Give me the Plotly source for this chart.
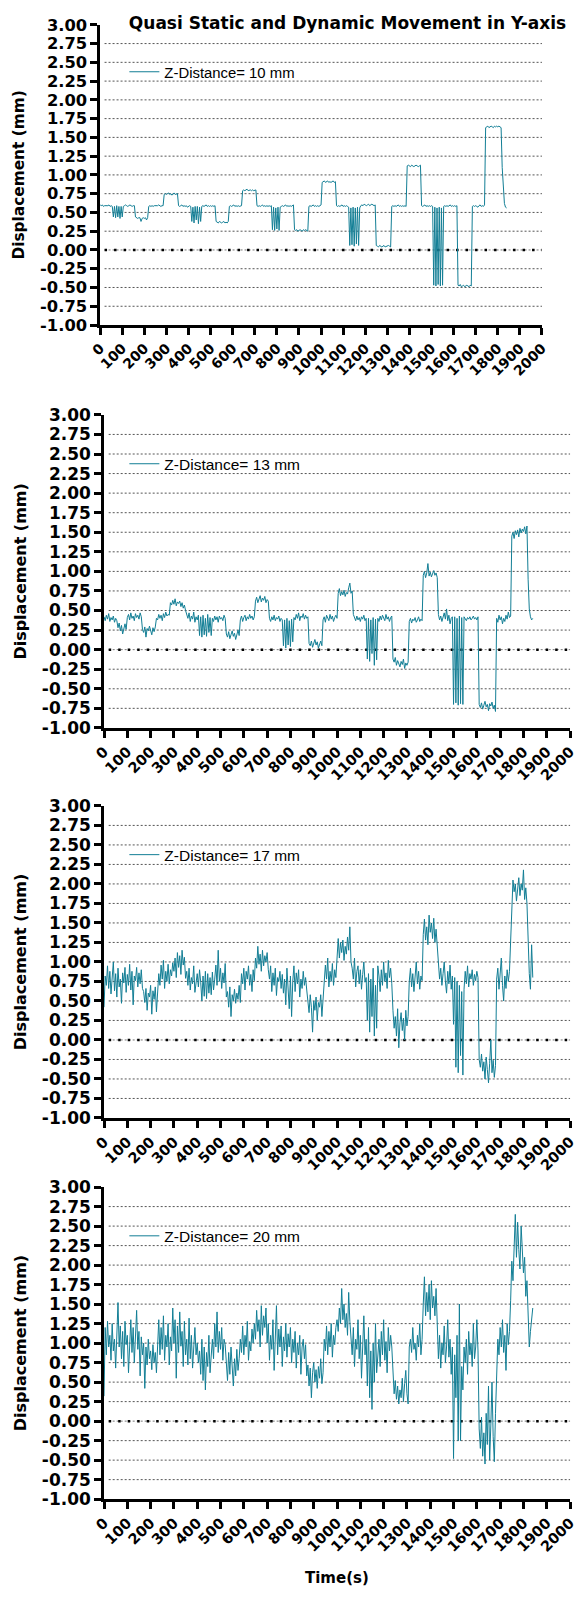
import numpy as np
import plotly.graph_objects as go

# Displacement readings (mm), logged every 5 s, one series per Z-distance
SAMPLE_S = 5

disp_10mm = [
    0.60, 0.59, 0.60, 0.58, 0.59, 0.59, 0.58, 0.59, 0.60, 0.58, 0.59, 0.58, 0.44, 0.58, 0.43, 0.59, 0.44, 0.58, 0.42, 0.58,
    0.44, 0.58, 0.59, 0.60, 0.59, 0.58, 0.59, 0.60, 0.59, 0.58, 0.59, 0.59, 0.44, 0.43, 0.42, 0.43, 0.43, 0.38, 0.42, 0.43,
    0.42, 0.43, 0.40, 0.43, 0.58, 0.59, 0.58, 0.59, 0.58, 0.59, 0.59, 0.58, 0.59, 0.60, 0.59, 0.58, 0.59, 0.59, 0.74, 0.75,
    0.74, 0.75, 0.76, 0.74, 0.75, 0.73, 0.75, 0.76, 0.74, 0.75, 0.75, 0.59, 0.58, 0.59, 0.60, 0.58, 0.59, 0.58, 0.59, 0.57,
    0.58, 0.59, 0.58, 0.38, 0.57, 0.36, 0.58, 0.40, 0.58, 0.35, 0.57, 0.38, 0.58, 0.59, 0.58, 0.59, 0.60, 0.58, 0.59, 0.58,
    0.59, 0.58, 0.59, 0.58, 0.59, 0.38, 0.37, 0.36, 0.38, 0.37, 0.36, 0.37, 0.38, 0.36, 0.37, 0.36, 0.38, 0.58, 0.59, 0.58,
    0.59, 0.60, 0.58, 0.59, 0.58, 0.59, 0.58, 0.59, 0.59, 0.79, 0.80, 0.79, 0.80, 0.81, 0.79, 0.80, 0.80, 0.79, 0.80, 0.79,
    0.80, 0.80, 0.59, 0.58, 0.59, 0.58, 0.59, 0.60, 0.58, 0.59, 0.58, 0.59, 0.58, 0.59, 0.58, 0.59, 0.27, 0.57, 0.26, 0.56,
    0.28, 0.57, 0.26, 0.57, 0.58, 0.59, 0.58, 0.59, 0.60, 0.58, 0.59, 0.58, 0.59, 0.58, 0.59, 0.60, 0.27, 0.26, 0.27, 0.25,
    0.26, 0.27, 0.26, 0.25, 0.27, 0.26, 0.27, 0.26, 0.25, 0.58, 0.59, 0.58, 0.59, 0.60, 0.58, 0.59, 0.58, 0.59, 0.58, 0.59,
    0.60, 0.90, 0.91, 0.92, 0.90, 0.91, 0.92, 0.90, 0.91, 0.90, 0.91, 0.92, 0.90, 0.91, 0.59, 0.58, 0.59, 0.58, 0.59, 0.60,
    0.58, 0.59, 0.58, 0.59, 0.58, 0.57, 0.06, 0.56, 0.07, 0.57, 0.05, 0.56, 0.08, 0.57, 0.06, 0.56, 0.59, 0.60, 0.59, 0.61,
    0.60, 0.59, 0.60, 0.61, 0.59, 0.60, 0.61, 0.60, 0.59, 0.60, 0.06, 0.05, 0.04, 0.06, 0.05, 0.04, 0.05, 0.06, 0.04, 0.05,
    0.05, 0.06, 0.05, 0.04, 0.58, 0.59, 0.58, 0.59, 0.58, 0.59, 0.60, 0.58, 0.59, 0.58, 0.59, 0.58, 0.59, 0.58, 1.12, 1.13,
    1.12, 1.11, 1.13, 1.12, 1.11, 1.12, 1.13, 1.12, 1.11, 1.12, 1.13, 0.59, 0.58, 0.59, 0.60, 0.58, 0.59, 0.58, 0.59, 0.58,
    0.59, 0.58, -0.47, 0.57, -0.48, 0.56, -0.46, 0.57, -0.48, 0.56, -0.47, 0.58, 0.59, 0.58, 0.59, 0.58, 0.59, 0.60, 0.58, 0.59,
    0.58, 0.59, 0.58, 0.59, -0.47, -0.48, -0.46, -0.49, -0.48, -0.47, -0.49, -0.48, -0.47, -0.48, -0.49, -0.47, -0.48, 0.58, 0.59, 0.58,
    0.59, 0.58, 0.57, 0.59, 0.60, 0.58, 0.59, 0.58, 0.60, 1.63, 1.64, 1.65, 1.63, 1.64, 1.65, 1.64, 1.63, 1.65, 1.64, 1.65,
    1.64, 1.65, 1.64, 1.63, 1.10, 0.75, 0.62, 0.57, 0.56,
]

disp_13mm = [
    0.42, 0.37, 0.44, 0.39, 0.46, 0.36, 0.41, 0.38, 0.43, 0.35, 0.40, 0.37, 0.28, 0.34, 0.24, 0.31, 0.20, 0.29, 0.33, 0.26,
    0.41, 0.45, 0.38, 0.47, 0.40, 0.43, 0.37, 0.46, 0.41, 0.44, 0.39, 0.47, 0.42, 0.26, 0.22, 0.29, 0.16, 0.27, 0.24, 0.30,
    0.25, 0.19, 0.28, 0.23, 0.29, 0.40, 0.38, 0.45, 0.40, 0.44, 0.37, 0.46, 0.41, 0.48, 0.43, 0.45, 0.44, 0.60, 0.57, 0.63,
    0.58, 0.65, 0.56, 0.61, 0.59, 0.62, 0.55, 0.60, 0.53, 0.57, 0.50, 0.45, 0.40, 0.47, 0.36, 0.43, 0.39, 0.48, 0.35, 0.42,
    0.38, 0.44, 0.18, 0.42, 0.16, 0.44, 0.19, 0.40, 0.17, 0.45, 0.22, 0.41, 0.18, 0.40, 0.36, 0.43, 0.38, 0.42, 0.35, 0.43,
    0.39, 0.41, 0.37, 0.44, 0.40, 0.20, 0.16, 0.23, 0.14, 0.19, 0.24, 0.17, 0.21, 0.13, 0.20, 0.25, 0.18, 0.38, 0.43, 0.36,
    0.41, 0.44, 0.37, 0.42, 0.39, 0.45, 0.40, 0.43, 0.38, 0.42, 0.62, 0.67, 0.60, 0.65, 0.69, 0.61, 0.66, 0.63, 0.68, 0.60,
    0.64, 0.62, 0.40, 0.36, 0.42, 0.38, 0.44, 0.37, 0.41, 0.39, 0.43, 0.36, 0.40, 0.38, 0.05, 0.38, 0.02, 0.40, 0.06, 0.37,
    0.04, 0.39, 0.10, 0.41, 0.38, 0.45, 0.40, 0.47, 0.37, 0.43, 0.41, 0.46, 0.39, 0.44, 0.40, 0.42, 0.08, 0.05, 0.11, 0.03,
    0.09, 0.13, 0.06, 0.10, 0.02, 0.08, 0.11, 0.05, 0.38, 0.42, 0.35, 0.44, 0.40, 0.37, 0.45, 0.39, 0.43, 0.36, 0.41, 0.44,
    0.40, 0.72, 0.78, 0.69, 0.74, 0.70, 0.76, 0.68, 0.73, 0.71, 0.79, 0.85, 0.72, 0.75, 0.45, 0.40, 0.37, 0.43, 0.38, 0.41,
    0.36, 0.42, 0.39, 0.44, 0.37, 0.40, -0.12, 0.40, -0.15, 0.38, -0.05, 0.41, -0.20, 0.39, -0.13, 0.40, 0.36, 0.43, 0.38, 0.44,
    0.40, 0.37, 0.45, 0.39, 0.42, 0.36, 0.41, 0.43, -0.12, -0.16, -0.10, -0.20, -0.14, -0.18, -0.22, -0.15, -0.19, -0.12, -0.24, -0.17,
    -0.20, -0.16, 0.36, 0.40, 0.34, 0.39, 0.37, 0.41, 0.35, 0.38, 0.42, 0.36, 0.39, 0.37, 0.95, 1.00, 0.92, 0.98, 1.10, 0.94,
    0.99, 0.93, 0.97, 1.01, 0.95, 0.98, 0.92, 0.45, 0.38, 0.43, 0.36, 0.41, 0.47, 0.39, 0.52, 0.37, 0.44, 0.33, 0.40, 0.42,
    -0.70, 0.42, -0.68, 0.40, -0.71, 0.43, -0.69, 0.41, -0.70, 0.42, 0.40, 0.37, 0.41, 0.39, 0.42, 0.38, 0.40, 0.43, 0.39, 0.41,
    0.38, 0.42, -0.70, -0.74, -0.68, -0.76, -0.71, -0.66, -0.73, -0.70, -0.78, -0.69, -0.72, -0.67, -0.75, -0.71, -0.79, 0.40, 0.35, 0.44,
    0.38, 0.42, 0.33, 0.40, 0.36, 0.44, 0.39, 0.48, 0.41, 0.43, 1.45, 1.50, 1.42, 1.52, 1.47, 1.53, 1.44, 1.55, 1.49, 1.54,
    1.51, 1.57, 1.48, 1.58, 0.90, 0.52, 0.42, 0.38, 0.40,
]

disp_17mm = [
    0.42, 0.82, 0.70, 0.95, 0.66, 0.88, 0.59, 0.79, 1.00, 0.63, 0.85, 0.55, 0.92, 0.68, 0.78, 0.47, 0.86, 0.73, 0.93, 0.61,
    0.84, 0.70, 0.97, 0.64, 0.88, 0.45, 0.82, 0.76, 0.93, 0.68, 0.86, 0.72, 0.90, 0.66, 0.62, 0.48, 0.66, 0.38, 0.60, 0.55,
    0.70, 0.33, 0.63, 0.52, 0.68, 0.36, 0.60, 0.85, 0.70, 0.96, 0.78, 1.02, 0.66, 0.88, 0.75, 0.97, 0.72, 0.90, 0.82, 0.99,
    0.88, 1.05, 0.80, 1.12, 0.93, 1.08, 0.84, 1.15, 0.96, 1.06, 0.79, 0.88, 0.70, 0.92, 0.64, 0.80, 0.72, 0.95, 0.61, 0.78,
    0.85, 0.68, 0.90, 0.74, 0.50, 0.82, 0.56, 0.88, 0.53, 0.85, 0.60, 0.80, 0.58, 0.87, 0.64, 0.78, 0.96, 0.70, 1.15, 0.75,
    0.92, 0.66, 0.86, 0.73, 0.98, 0.55, 0.62, 0.42, 0.68, 0.30, 0.58, 0.50, 0.65, 0.47, 0.60, 0.52, 0.70, 0.48, 0.85, 0.72,
    0.92, 0.64, 0.88, 0.78, 0.95, 0.70, 0.84, 0.62, 0.90, 0.76, 1.05, 0.92, 1.20, 0.97, 1.10, 0.88, 1.15, 0.95, 1.08, 1.00,
    1.12, 0.90, 0.78, 0.95, 0.62, 0.86, 0.70, 0.92, 0.57, 0.80, 0.75, 0.88, 0.66, 0.84, 0.60, 0.78, 0.45, 0.92, 0.68, 0.40,
    0.82, 0.30, 0.75, 0.95, 0.62, 0.86, 0.72, 0.90, 0.55, 0.78, 0.66, 0.88, 0.70, 0.80, 0.64, 0.50, 0.35, 0.58, 0.42, 0.10,
    0.50, 0.38, 0.55, 0.25, 0.48, 0.42, 0.58, 0.30, 0.52, 0.72, 0.96, 0.78, 1.05, 0.68, 0.88, 0.75, 0.98, 0.70, 0.90, 0.80,
    1.15, 1.30, 1.05, 1.25, 1.12, 1.28, 1.02, 1.20, 1.10, 1.32, 1.15, 1.45, 1.00, 0.92, 0.78, 1.05, 0.68, 0.88, 0.95, 0.72,
    0.90, 0.65, 0.84, 1.00, 0.74, 0.80, 0.25, 0.85, 0.10, 0.78, 0.30, 0.92, 0.05, 0.70, 0.15, 0.95, 0.82, 0.62, 0.90, 0.70,
    1.00, 0.75, 0.86, 0.66, 1.02, 0.80, 0.92, 0.72, 0.38, 0.15, 0.30, 0.05, 0.40, -0.10, 0.22, 0.35, 0.12, 0.28, 0.00, 0.38,
    0.18, 0.30, 0.75, 0.92, 0.68, 0.85, 0.62, 0.80, 1.00, 0.72, 0.88, 0.65, 0.82, 0.76, 1.35, 1.55, 1.28, 1.45, 1.22, 1.60,
    1.38, 1.50, 1.30, 1.56, 1.25, 1.42, 1.15, 0.95, 0.78, 0.92, 0.70, 0.85, 1.00, 0.75, 0.60, 0.88, 0.72, 0.96, 0.65, 0.82,
    0.20, 0.80, -0.35, 0.75, -0.42, 0.70, -0.20, 0.62, -0.45, 0.65, 0.88, 0.72, 0.95, 0.68, 0.85, 0.78, 0.90, 0.70, 0.84, 0.76,
    0.88, 0.80, -0.25, -0.35, -0.18, -0.40, -0.28, -0.50, -0.22, -0.38, -0.55, -0.30, 0.00, -0.42, -0.26, -0.48, -0.33, 0.78, 0.92, 0.65,
    0.85, 1.05, 0.70, 0.50, 0.82, 0.66, 0.90, 0.75, 0.88, 1.30, 1.85, 2.05, 1.90, 2.00, 1.78, 1.95, 2.08, 1.85, 2.00, 1.92,
    2.18, 1.80, 1.95, 1.75, 1.20, 0.85, 0.65, 1.22, 0.80,
]

disp_20mm = [
    0.32, 1.20, 0.85, 1.28, 0.95, 1.10, 0.78, 1.25, 0.90, 1.05, 0.68, 1.18, 1.52, 0.95, 1.22, 0.80, 1.15, 0.70, 1.28, 0.98,
    1.10, 0.62, 1.05, 1.30, 0.88, 1.20, 0.75, 1.02, 1.42, 0.92, 1.15, 0.58, 1.08, 0.85, 1.00, 0.42, 0.95, 0.72, 1.05, 0.80,
    0.90, 0.66, 0.98, 0.75, 0.88, 0.62, 1.00, 1.30, 0.85, 1.20, 0.92, 1.35, 0.78, 1.10, 0.95, 1.25, 0.72, 1.08, 0.90, 1.45,
    1.00, 1.30, 0.55, 1.22, 0.88, 1.40, 0.96, 1.15, 0.70, 1.28, 0.85, 1.05, 0.72, 1.32, 0.80, 1.10, 0.68, 0.98, 1.20, 0.85,
    1.00, 0.75, 0.90, 0.60, 1.05, 0.52, 0.95, 0.40, 0.88, 0.70, 1.10, 0.62, 0.85, 1.05, 0.80, 1.25, 0.95, 1.40, 0.88, 1.15,
    0.92, 1.20, 0.78, 1.05, 0.98, 0.75, 0.52, 0.88, 0.60, 0.95, 0.70, 0.45, 0.80, 0.58, 0.92, 0.65, 0.80, 1.05, 0.88, 1.22,
    0.85, 1.10, 0.95, 1.28, 0.78, 1.02, 0.90, 1.18, 1.00, 1.25, 1.05, 1.42, 1.15, 1.30, 0.95, 1.48, 1.10, 1.35, 1.20, 1.45,
    1.00, 1.25, 0.78, 1.10, 0.92, 1.30, 0.65, 1.05, 1.48, 0.85, 1.18, 0.95, 1.22, 0.70, 1.08, 0.90, 1.25, 0.82, 1.12, 0.95,
    1.20, 0.75, 1.05, 0.88, 1.15, 0.68, 1.00, 0.85, 1.10, 0.60, 0.95, 1.05, 0.80, 0.98, 0.58, 0.72, 0.45, 0.68, 0.30, 0.62,
    0.75, 0.50, 0.66, 0.42, 0.70, 0.55, 0.80, 0.48, 0.62, 1.05, 0.90, 1.22, 0.85, 1.15, 0.95, 1.25, 0.82, 1.10, 0.98, 1.20,
    1.30, 1.15, 1.45, 1.25, 1.70, 1.30, 1.50, 1.20, 1.38, 1.10, 1.65, 1.28, 1.10, 0.85, 1.20, 0.70, 1.05, 0.92, 1.30, 0.80,
    1.10, 0.55, 0.95, 1.35, 0.85, 1.05, 0.45, 1.20, 0.30, 0.90, 0.15, 1.00, 0.50, 1.25, 0.62, 0.85, 1.05, 0.70, 1.15, 0.85,
    1.30, 0.78, 1.02, 0.62, 1.20, 0.90, 1.10, 0.95, 0.60, 0.35, 0.52, 0.28, 0.45, 0.22, 0.40, 0.30, 0.55, 0.25, 0.48, 0.65,
    0.35, 0.22, 0.95, 1.05, 0.88, 1.20, 0.92, 1.00, 0.78, 1.10, 0.95, 1.25, 0.85, 1.05, 1.50, 1.85, 1.35, 1.65, 1.40, 1.75,
    1.30, 1.80, 1.45, 1.60, 1.35, 1.70, 1.25, 0.80, 1.10, 0.68, 1.00, 0.85, 1.22, 0.75, 0.95, 1.30, 0.82, 1.05, 0.60, 0.95,
    -0.48, 0.85, 0.30, 1.10, -0.25, 1.50, -0.25, 0.70, 0.40, 0.95, 0.75, 1.05, 0.60, 1.15, 0.85, 1.00, 0.70, 1.25, 0.80, 0.95,
    1.30, 0.90, -0.10, -0.35, 0.05, -0.45, -0.15, -0.55, 0.10, -0.30, 0.45, -0.50, -0.05, 0.50, -0.20, -0.52, 0.10, 0.75, 1.05, 0.85,
    1.20, 0.95, 1.30, 0.88, 1.10, 0.65, 1.25, 0.98, 1.15, 1.55, 2.05, 1.80, 2.30, 2.65, 2.10, 2.55, 2.20, 1.95, 2.50, 2.15,
    1.90, 2.10, 1.60, 1.80, 1.25, 0.95, 1.15, 1.30, 1.45,
]

series = [disp_10mm, disp_13mm, disp_17mm, disp_20mm]
series_labels = ["Z-Distance= 10 mm", "Z-Distance= 13 mm", "Z-Distance= 17 mm", "Z-Distance= 20 mm"]

y_ticks = [-1.00, -0.75, -0.50, -0.25, 0.00, 0.25, 0.50, 0.75, 1.00, 1.25,
           1.50, 1.75, 2.00, 2.25, 2.50, 2.75, 3.00]
x_ticks = [0, 100, 200, 300, 400, 500, 600, 700, 800, 900, 1000,
           1100, 1200, 1300, 1400, 1500, 1600, 1700, 1800, 1900, 2000]

chart_title = "Quasi Static and Dynamic Movement in Y-axis"
y_title = "Displacement (mm)"
x_title = "Time(s)"

# ---- layout geometry (pixels) ----
W, H = 579, 1599
# left, right, top, bottom of each plotting box, plus a font scale
boxes = [
    (92, 548, 15, 319, 0.96),
    (96, 577, 410, 727, 1.0),
    (96, 577, 806, 1122, 1.0),
    (96, 577, 1192, 1508, 1.0),
]
legend_y_value = 2.37   # vertical position of each key, in data units
legend_left_px = 117
x_title_center_px = (336, 1588)

LINE_COLOR = "#127e95"
BOLD = "DejaVu Sans"
PLAIN = "Liberation Sans"

fig = go.Figure()
shapes = []

for i, (vals, label, box) in enumerate(zip(series, series_labels, boxes)):
    left, right, top, bottom, s = box
    n = i + 1
    xa = "x" if n == 1 else f"x{n}"
    ya = "y" if n == 1 else f"y{n}"
    leg = "legend" if n == 1 else f"legend{n}"
    t = np.arange(len(vals)) * SAMPLE_S

    fig.add_trace(go.Scatter(
        x=t, y=vals, mode="lines", name=label,
        line=dict(color=LINE_COLOR, width=1),
        xaxis=xa, yaxis=ya, legend=leg, showlegend=True,
    ))

    xdom = [left / W, right / W]
    ydom = [1 - bottom / H, 1 - top / H]

    axis_common = dict(
        showline=True, linewidth=2.5, linecolor="black",
        ticks="outside", ticklen=7, tickwidth=2.5, tickcolor="black",
        showgrid=False, zeroline=False, mirror=False,
    )
    fig.layout[("xaxis" if n == 1 else f"xaxis{n}")] = dict(
        axis_common, domain=xdom, anchor=ya, range=[0, 2000],
        tickvals=x_ticks, ticktext=[str(v) for v in x_ticks], tickangle=-45,
        tickfont=dict(family=BOLD, size=14.5 * s, color="black", weight="bold"),
    )
    fig.layout[("yaxis" if n == 1 else f"yaxis{n}")] = dict(
        axis_common, domain=ydom, anchor=xa, range=[-1, 3],
        tickvals=y_ticks, ticktext=[f"{v:.2f}" for v in y_ticks],
        tickfont=dict(family=BOLD, size=17 * s, color="black", weight="bold"),
        title=dict(text=y_title,
                   font=dict(family=BOLD, size=16 * s, color="black", weight="bold"),
                   standoff=12),
    )

    # dotted horizontal grid at interior ticks; heavier dotted line at zero
    for v in y_ticks[1:-1]:
        if v == 0:
            continue
        shapes.append(dict(
            type="line", xref=f"{xa} domain", yref=ya, x0=0.01, x1=1, y0=v, y1=v,
            line=dict(color="#555555", width=1, dash="2px,2px"), layer="below",
        ))
    shapes.append(dict(
        type="line", xref=f"{xa} domain", yref=ya, x0=0.01, x1=1, y0=0, y1=0,
        line=dict(color="#777777", width=1, dash="2px,2px"), layer="below",
    ))
    shapes.append(dict(
        type="line", xref=f"{xa} domain", yref=ya, x0=0.01, x1=1, y0=0, y1=0,
        line=dict(color="black", width=2.5, dash="2.5px,7px"), layer="below",
    ))

    # key placement for this panel
    key_y = ydom[0] + (legend_y_value + 1) / 4 * (ydom[1] - ydom[0])
    fig.layout[leg] = dict(
        x=legend_left_px / W, y=key_y, xanchor="left", yanchor="middle",
        xref="paper", yref="paper", bgcolor="rgba(0,0,0,0)",
        font=dict(family=PLAIN, size=15.5 * s, color="black"),
        itemwidth=30,
    )

fig.update_layout(
    width=W, height=H,
    margin=dict(l=0, r=0, t=0, b=0),
    paper_bgcolor="white", plot_bgcolor="white",
    shapes=shapes,
    title=dict(text=chart_title, x=573 / W, xanchor="right",
               y=1 - 13 / H, yanchor="middle", xref="paper", yref="paper",
               font=dict(family=BOLD, size=17, color="black", weight="bold")),
    annotations=[dict(
        text=x_title, xref="paper", yref="paper",
        x=x_title_center_px[0] / W, y=1 - x_title_center_px[1] / H,
        xanchor="center", yanchor="middle", showarrow=False,
        font=dict(family=BOLD, size=15, color="black", weight="bold"),
    )],
)

fig.write_html("out.html")
